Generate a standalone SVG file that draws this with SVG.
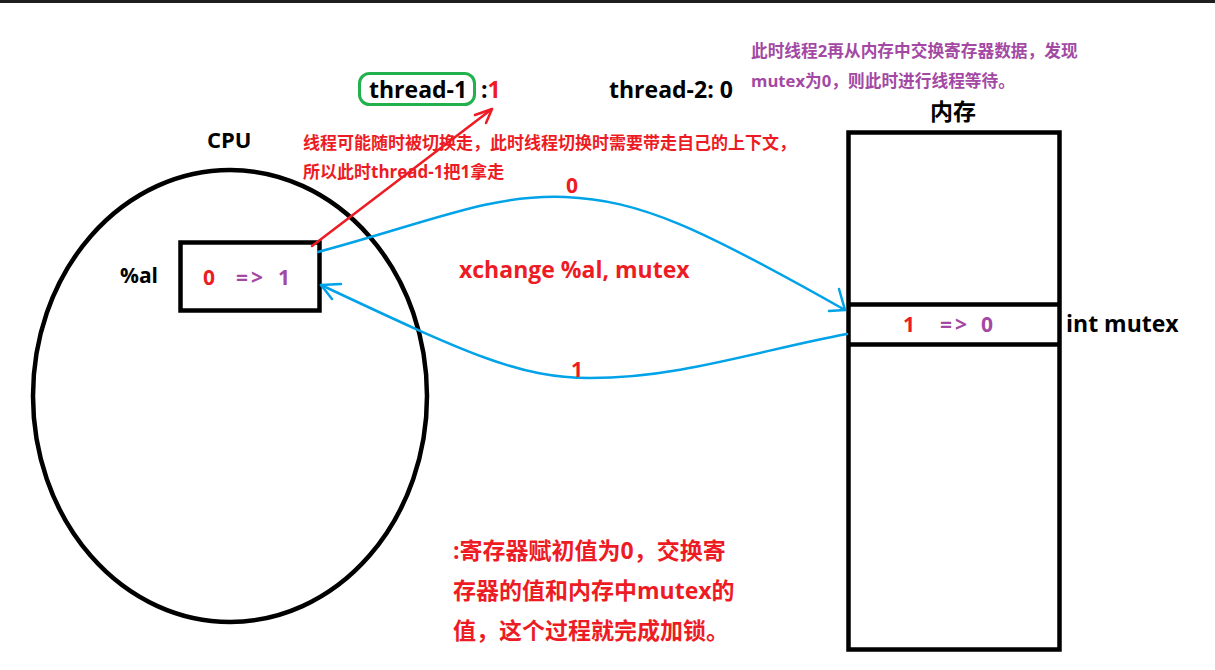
<svg xmlns="http://www.w3.org/2000/svg" width="1215" height="670" viewBox="0 0 1215 670">
  <style>
    text { font-family: "Open Sans", "Noto Sans CJK SC", sans-serif; font-weight: bold; }
    .blk { fill: #000; }
    .red { fill: #ed1c24; }
    .pur { fill: #a349a4; }
    .shape { fill: #fff; stroke: #000; stroke-width: 4.5; }
    .line { fill: none; stroke: #000; stroke-width: 4.5; }
    .blue { fill: none; stroke: #00a2e8; stroke-width: 2.5; stroke-linecap: round; stroke-linejoin: round; }
    .redl { fill: none; stroke: #ed1c24; stroke-width: 2.5; stroke-linecap: round; stroke-linejoin: round; }
    .big { font-size: 23px; }
    .mid { font-size: 21px; }
    .small { font-size: 17px; }
    .note { font-size: 16.7px; }
    .arr { letter-spacing: 3px; }
  </style>
  <rect x="0" y="0" width="1215" height="670" fill="#fff"/>
  <rect x="0" y="0" width="1215" height="3" fill="#1e1e1e"/>

  <g id="cpu">
    <ellipse cx="230" cy="396" rx="197" ry="226" class="shape"/>
    <text x="207" y="148" class="blk" font-size="22">CPU</text>
  </g>

  <g id="register">
    <rect x="180.5" y="242.5" width="139" height="68" class="shape"/>
    <text x="120" y="283" class="mid blk">%al</text>
    <text y="285" class="mid"><tspan x="203" class="red">0</tspan><tspan x="236" class="pur arr">=&gt;</tspan><tspan x="278" class="pur">1</tspan></text>
  </g>

  <g id="memory">
    <rect x="848.5" y="132.5" width="211" height="517" class="shape"/>
    <line x1="848.5" y1="304.5" x2="1059.5" y2="304.5" class="line"/>
    <line x1="848.5" y1="344.5" x2="1059.5" y2="344.5" class="line"/>
    <text x="930" y="120" class="big blk" font-size="22">内存</text>
    <text y="332" class="mid"><tspan x="903" class="red">1</tspan><tspan x="940" class="pur arr">=&gt;</tspan><tspan x="981" class="pur">0</tspan></text>
    <text x="1066" y="332" class="big blk">int mutex</text>
  </g>

  <g id="thread1">
    <rect x="359.5" y="73.5" width="115" height="31" rx="10" ry="10" fill="none" stroke="#22b14c" stroke-width="3"/>
    <text x="369" y="98" class="big blk">thread-1</text>
    <text x="481" y="98" class="big"><tspan class="blk">:</tspan><tspan class="red">1</tspan></text>
  </g>

  <g id="thread2">
    <text x="609" y="98" class="big blk">thread-2: 0</text>
  </g>

  <g id="note-thread2">
    <text x="751" y="57" class="note pur">此时线程2再从内存中交换寄存器数据，发现</text>
    <text x="751" y="87" class="note pur">mutex为0，则此时进行线程等待。</text>
  </g>

  <g id="note-switch">
    <text x="303" y="149" class="small red">线程可能随时被切换走，此时线程切换时需要带走自己的上下文，</text>
    <text x="303" y="178" class="small red">所以此时thread-1把1拿走</text>
  </g>

  <g id="note-lock">
    <text x="453" y="559" class="big red">:寄存器赋初值为0，交换寄</text>
    <text x="453" y="599" class="big red">存器的值和内存中mutex的</text>
    <text x="453" y="639" class="big red">值，这个过程就完成加锁。</text>
  </g>

  <g id="connectors">
    <path d="M312,246 L492,109" class="redl"/>
    <path d="M475,115 L492,109 L486,123" class="redl"/>
    <path d="M318,252 C430,222 490,194 565,197 C640,200 700,228 845,310" class="blue"/>
    <path d="M839,289 L845,310 L829,311" class="blue"/>
    <path d="M847,334 C760,350 680,378 590,378 C520,378 470,355 321,285" class="blue"/>
    <path d="M341,284 L321,285 L332,299" class="blue"/>
    <text x="566" y="193" class="mid red">0</text>
    <text x="571" y="377" class="mid red">1</text>
    <text x="459" y="278" class="big red">xchange %al, mutex</text>
  </g>
</svg>
